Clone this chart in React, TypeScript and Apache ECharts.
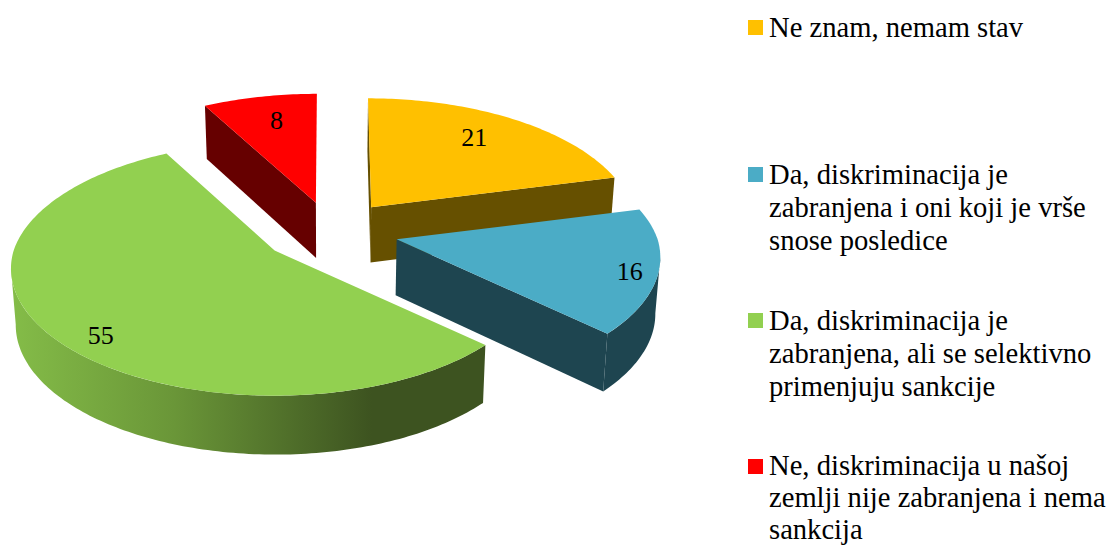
import React, { useEffect, useRef } from "react";
import * as echarts from "echarts";

const LABELS = [
  "Ne znam, nemam stav",
  "Da, diskriminacija je\nzabranjena i oni koji je vrše\nsnose posledice",
  "Da, diskriminacija je\nzabranjena, ali se selektivno\nprimenjuju sankcije",
  "Ne, diskriminacija u našoj\nzemlji nije zabranjena i nema\nsankcija",
];
const VALUES = [21, 16, 55, 8];
const TOP_COLORS = ["#FFC000", "#4BACC6", "#92D050", "#FF0000"];
const WALL_COLORS = ["#665000", "#1E4550", "#3D5320", "#660000"];
const LEGEND_Y = [27.5, 174.5, 320.5, 466.5];
const LEGEND_LINE = [33, 33, 33, 32];
const LEGEND_TEXT_TOP = [10.5, 157.5, 303.5, 449];
const LABEL_FRACTION = [[0.73, 0.79], [0.89, 1.0], [0.77, 1.02], [0.7, 0.78]];
const APEX_NUDGE = [[0, 0], [1, 0], [0, 0], [4, 1]];

const FONT = "'Liberation Serif', serif";
const CX = 329, CY = 231.7, EX = 68.8, EY = 30.8;
const RX = 261, RY = 124.5, K = 0.142;
const RAD = Math.PI / 180;
const TOTAL = VALUES.reduce((a, b) => a + b, 0);

function sliceAngles(i: number) {
  let sum = 0;
  for (let j = 0; j < i; j++) sum += VALUES[j];
  return [(sum / TOTAL) * 360, ((sum + VALUES[i]) / TOTAL) * 360];
}
function rim(apex: number[], deg: number) {
  const a = Math.sin(deg * RAD), b = Math.cos(deg * RAD);
  const w = 1 + K * b;
  const lean = b > 0 ? (apex[0] - CX) * (1 / w - 1) * 0.6 : 0;
  return [apex[0] + (RX * a) / w + lean, apex[1] - (RY * b) / w];
}
function down(p: number[]) {
  return [p[0] - (p[0] - CX) * 0.015, p[1] + 53 + (p[1] - 100) * 0.02];
}
function arcPts(apex: number[], from: number, to: number) {
  const n = Math.max(2, Math.ceil(to - from));
  const pts: number[][] = [];
  for (let i = 0; i <= n; i++) pts.push(rim(apex, from + ((to - from) * i) / n));
  return pts;
}

function renderSlice(params: any) {
  const i = params.dataIndex;
  const [s, e] = sliceAngles(i);
  const mid = ((s + e) / 2) * RAD;
  const apex = [
    CX + EX * Math.sin(mid) + APEX_NUDGE[i][0],
    CY - EY * Math.cos(mid) + APEX_NUDGE[i][1],
  ];
  const children: any[] = [];
  const wallFill =
    i === 2
      ? new echarts.graphic.LinearGradient(12, 0, 372, 0, [
          { offset: 0, color: "#84BC48" },
          { offset: 0.45, color: "#6A9638" },
          { offset: 1, color: WALL_COLORS[2] },
        ], true)
      : WALL_COLORS[i];
  // the side of the rim is visible between the two silhouette angles of the ellipse
  const from = Math.max(s, 98), to = Math.min(e, 262);
  if (to > from) {
    const t = arcPts(apex, from, to);
    children.push({
      type: "polygon",
      shape: { points: [...t, ...t.map(down).reverse()] },
      style: { fill: wallFill },
    });
  }
  const wall = (deg: number) => {
    const p = rim(apex, deg);
    children.push({
      type: "polygon",
      shape: { points: [apex, p, down(p), down(apex)] },
      style: { fill: WALL_COLORS[i] },
    });
  };
  if (Math.sin(s * RAD) <= 1e-9) wall(s);
  if (Math.sin(e * RAD) > 1e-9) wall(e);
  children.push({
    type: "polygon",
    shape: { points: [apex, ...arcPts(apex, s, e)] },
    style: { fill: TOP_COLORS[i] },
  });
  const r = rim(apex, (s + e) / 2);
  const f = LABEL_FRACTION[i];
  children.push({
    type: "text",
    x: apex[0] + f[0] * (r[0] - apex[0]),
    y: apex[1] + f[1] * (r[1] - apex[1]),
    style: {
      text: String(VALUES[i]),
      fill: "#000",
      font: `26px ${FONT}`,
      align: "center",
      verticalAlign: "middle",
    },
  });
  return { type: "group", children };
}

export default function App() {
  const ref = useRef<HTMLDivElement>(null);
  useEffect(() => {
    document.body.style.margin = "0";
    const chart = echarts.init(ref.current!, null, { renderer: "svg" });
    const legend: any[] = [];
    LABELS.forEach((t, i) => {
      legend.push({
        type: "rect",
        shape: { x: 748, y: LEGEND_Y[i] - 7.5, width: 15, height: 15 },
        style: { fill: TOP_COLORS[i] },
      });
      legend.push({
        type: "text",
        x: 769,
        y: LEGEND_TEXT_TOP[i],
        style: {
          text: t,
          fill: "#000",
          font: `28.6px ${FONT}`,
          lineHeight: LEGEND_LINE[i],
          verticalAlign: "top",
          align: "left",
        },
      });
    });
    chart.setOption({
      animation: false,
      backgroundColor: "#fff",
      series: [
        {
          type: "custom",
          coordinateSystem: "none",
          silent: true,
          data: VALUES.map((v, i) => ({ value: v, name: LABELS[i] })),
          renderItem: renderSlice,
        },
      ],
      graphic: legend,
    });
    return () => chart.dispose();
  }, []);
  return <div ref={ref} style={{ position: "fixed", left: 0, top: 0, width: 1110, height: 545 }} />;
}
